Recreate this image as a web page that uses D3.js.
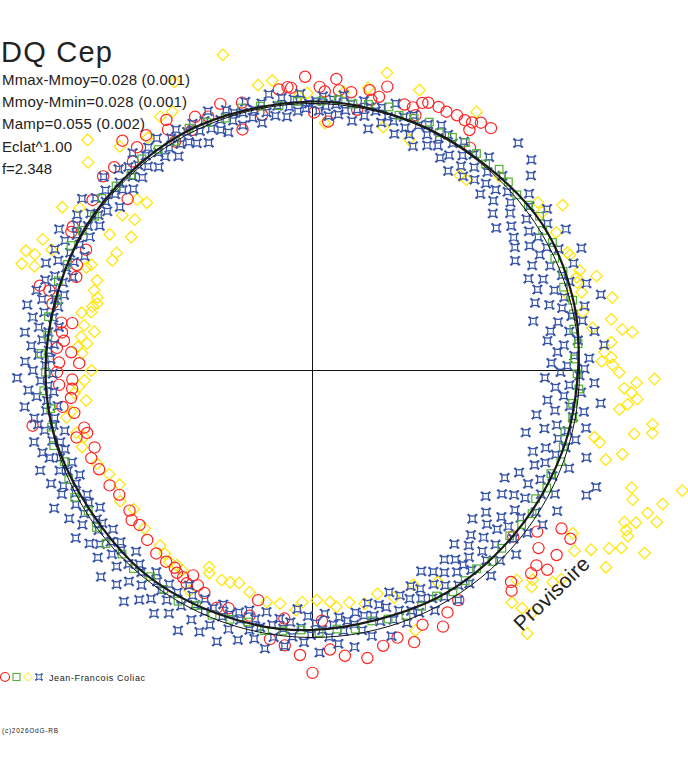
<!DOCTYPE html>
<html><head><meta charset="utf-8">
<script src="https://cdn.jsdelivr.net/npm/d3@7"></script>
<style>body{margin:0;background:#fff}svg{display:block}</style>
</head><body>
<svg id="c" width="688" height="768"></svg>
<script>
// ---------- texts ----------
const title = "DQ Cep";
const infoLines = ["Mmax-Mmoy=0.028 (0.001)", "Mmoy-Mmin=0.028 (0.001)", "Mamp=0.055 (0.002)", "Eclat^1.00", "f=2.348"];
const observer = "Jean-Francois Coliac";
const copyright = "(c)2026OdG-RB";
const watermark = "Provisoire";

// ---------- fitted light curve: phase, magnitude deviation from mean ----------
const fitPhase = [0, .06, .11, .16, .21, .25, .30, .36, .42, .50, .56, .62, .70, .76, .84, .92];
const fitMag   = [-.008, -.004, -.006, -.022, -.012, .006, .018, .029, .032, .031, .024, .015, .006, .001, -.006, -.013];

// ---------- observations: [phase, magnitude deviation] ----------
const redObs = [
[.996,-.104],[.013,-.099],[.004,-.066],[.007,-.049],[.015,-.057],[.022,-.055],[.986,-.069],[.988,-.065],[.981,-.063],[.032,-.075],[.038,-.058],[.041,-.103],[.959,-.04],[.955,.067],[.969,.027],[.001,.037],[.010,.074],[.027,.01],[.034,-.04],
[.053,-.057],[.058,-.058],[.062,-.087],[.065,-.096],[.071,-.098],[.076,-.095],[.082,-.102],[.087,-.101],[.091,-.108],[.095,-.125],[.101,-.13],[.092,-.079],[.098,-.023],[.061,-.033],
[.916,-.09],[.914,-.055],[.894,-.067],[.89,-.12],[.914,0],[.902,-.083],[.869,-.073],[.877,-.067],[.887,-.034],[.926,-.008],[.947,-.06],[.938,-.03],[.931,-.05],
[.798,-.073],[.836,-.05],[.833,-.044],[.828,.043],[.817,.037],[.81,.054],[.855,-.045],[.869,.062],[.79,-.006],[.797,-.032],
[.78,.047],[.781,.094],[.774,.057],[.769,.07],[.764,.043],[.762,.107],[.755,.056],[.749,.048],[.755,.146],[.741,.055],[.744,.114],[.738,.111],[.732,.102],[.727,.06],[.722,.107],[.719,-.072],[.711,.137],[.706,.092],[.707,.144],[.696,.157],
[.668,.147],[.659,.163],[.646,.16],[.634,.153],[.623,.131],[.681,.138],[.69,.125],[.64,.14],
[.6125,.113],[.604,.112],[.597,.113],[.594,.10],[.589,.098],[.584,.129],[.578,.10],[.585,.084],[.572,.083],[.561,.047],[.554,.062],[.54,.058],[.537,.134],[.518,.073],[.494,.07],
[.5,-.135],[.482,-.079],[.46,-.068],[.451,-.053],[.507,-.07],[.516,-.037],[.47,-.10],[.49,-.05],[.525,-.02],[.443,-.09],[.435,-.04],[.419,-.04],[.425,-.08],[.41,-.02],
[.360,.027],[.349,-.038],[.356,-.08],[.362,-.155],[.364,-.115],[.369,-.12],[.380,-.09],[.383,-.115],[.342,-.155],[.340,-.108],[.353,-.148]
];

const yellowObs = [
[.956,-.224],[.97,-.092],[.978,-.10],[.031,-.083],[.018,-.053],[.008,.081],[.992,-.031],[.997,-.042],[.039,-.151],[.045,.056],
[.929,-.196],[.877,-.204],[.902,-.071],[.914,-.112],[.921,-.106],[.887,-.11],[.869,-.148],
[.813,-.164],[.813,-.13],[.806,-.161],[.807,-.115],[.819,-.08],[.822,-.126],[.842,-.122],[.847,-.067],[.844,.097],[.859,.091],[.862,.147],[.851,.185],[.83,.169],[.836,.169],[.821,.093],[.818,.078],[.813,.146],[.806,.15],[.802,.176],[.795,.166],[.873,.093],[.876,.135],
[.798,.184],[.791,.167],[.789,.125],[.781,.149],[.778,.203],[.773,.144],[.769,.176],[.766,.134],[.762,.157],[.75,.205],[.743,.17],[.739,.143],[.729,.17],[.735,.12],[.723,.095],[.72,.07],[.709,.097],[.705,.125],[.699,.103],
[.685,.14],[.675,.17],[.665,.19],[.655,.15],[.645,.18],[.63,.16],
[.614,.152],[.608,.137],[.602,.12],[.597,.128],[.592,.123],[.577,.20],[.575,.175],[.565,.169],[.559,.175],[.553,.187],[.544,.16],[.531,.134],[.522,.137],[.511,.115],[.507,.153],[.497,.163],[.488,.152],[.484,.127],[.581,.062],
[.475,.14],[.465,.12],[.455,.15],[.445,.11],[.43,.13],[.415,.09],[.44,-.05],
[.339,-.151],[.346,-.19],[.341,-.234],[.336,-.281],[.333,-.313],[.344,-.304],[.33,-.38],[.322,-.284],[.32,-.317],[.316,-.372],[.325,-.30],[.327,-.313],[.314,-.337],[.308,-.368],[.311,-.279],[.306,-.262],[.30,-.408],[.361,-.213],[.365,-.197],[.371,-.14],[.374,-.155],[.377,-.099],[.387,-.148],[.385,-.186],[.391,-.261],[.383,-.22],[.292,-.2],[.297,-.15],
[.199,-.124],[.212,-.157],[.223,-.138],[.229,-.171],[.231,-.204],[.226,-.064],[.235,-.127],[.24,-.10],[.243,-.123],[.245,-.087],[.247,-.127],[.251,-.151],[.254,-.269],[.256,-.211],[.259,-.17],[.261,-.195],[.264,-.217],[.267,-.186],[.27,-.16],[.275,-.276],[.281,-.223],[.279,-.28],[.289,-.112],[.287,-.089],[.193,-.072],[.196,-.052],[.183,-.059],[.199,-.048],[.205,-.053],[.216,-.038],[.205,0],
[.058,-.127],[.148,-.056],[.157,-.126],[.063,.07],[.09,-.149],[.103,.095],[.108,.093],[.122,-.01],[.154,-.047],[.168,-.052],[.181,-.055]
];

const blueObs = [
[.002,-.01],[.004,.03],[.006,-.03],[.008,.01],[.010,.05],[.012,-.02],[.014,.00],[.016,.04],[.018,-.04],[.020,.02],[.023,-.01],[.025,.06],[.027,.01],[.030,-.03],[.032,.03],[.034,-.01],[.036,.08],[.038,.00],
[.041,-.02],[.043,.04],[.046,.01],[.048,-.05],[.050,.02],[.053,.07],[.055,-.01],[.058,.03],[.060,-.03],[.062,.05],[.065,.00],[.067,.09],[.070,-.02],[.072,.02],[.075,.06],[.077,-.04],[.079,.01],
[.081,.04],[.083,-.02],[.086,.08],[.088,.00],[.090,.05],[.093,-.03],[.095,.11],[.097,.02],[.100,.06],[.102,-.01],[.105,.09],[.107,.03],[.110,-.04],[.112,.07],[.115,.01],[.117,-.15],[.119,.05],
[.121,.10],[.123,-.02],[.126,.04],[.128,-.14],[.130,.08],[.132,.01],[.134,-.10],[.136,.12],[.138,.03],[.141,-.05],[.143,.06],[.145,.15],[.147,-.02],[.150,.09],[.152,.02],[.154,-.07],[.157,.11],[.159,.04],
[.161,-.04],[.163,.13],[.165,.02],[.167,.07],[.169,-.09],[.171,.16],[.173,.01],[.175,.05],[.177,-.03],[.179,.10],[.182,-.11],[.184,.03],[.186,.14],[.188,-.06],[.190,.08],[.192,.00],[.195,.12],[.197,-.02],[.199,.05],
[.201,-.08],[.203,.15],[.205,.02],[.207,.09],[.209,-.12],[.211,.04],[.213,-.05],[.215,.18],[.217,.01],[.219,.07],[.221,-.03],[.224,.11],[.226,.03],[.228,-.07],[.230,.13],[.232,.00],[.234,.06],[.236,-.10],[.238,.09],
[.241,.02],[.243,-.04],[.245,.12],[.247,.05],[.249,-.02],[.251,.08],[.253,.00],[.255,.15],[.257,-.06],[.259,.04],[.261,.10],[.263,-.01],[.266,.06],[.268,-.09],[.270,.13],[.272,.03],[.274,-.03],[.276,.09],[.278,.01],
[.281,.17],[.283,-.05],[.285,.07],[.287,.02],[.289,.12],[.291,-.02],[.293,.05],[.295,.20],[.297,.01],[.299,-.08],[.301,.09],[.303,.04],[.306,.14],[.308,-.03],[.310,.07],[.312,-.15],[.314,.11],[.316,.02],[.318,-.13],
[.321,.06],[.323,.16],[.325,-.02],[.327,.10],[.329,.03],[.331,.21],[.333,-.06],[.336,.08],[.338,.13],[.340,.01],[.342,.18],[.344,-.04],[.346,.09],[.348,.05],[.350,.24],[.353,-.01],[.355,.12],[.357,.07],[.359,.19],
[.361,.02],[.363,.10],[.365,.15],[.367,-.03],[.369,.22],[.371,.06],[.373,.12],[.376,.00],[.378,.17],[.380,.08],[.382,.04],[.384,.14],[.386,-.02],[.389,.10],[.391,.19],[.393,.05],[.395,.09],[.397,.13],[.399,.01],
[.401,.08],[.403,.16],[.405,.03],[.408,.11],[.410,-.02],[.412,.06],[.414,.14],[.416,.02],[.418,.09],[.421,.17],[.423,.04],[.425,-.01],[.427,.10],[.429,.06],[.432,.13],[.434,.01],[.436,.08],[.438,.03],
[.441,.11],[.443,-.01],[.445,.05],[.447,.14],[.450,.02],[.452,.08],[.454,-.04],[.456,.10],[.458,.03],[.461,.06],[.463,.12],[.465,-.02],[.467,.07],[.470,.01],[.472,.09],[.474,.04],[.476,-.05],[.478,.06],
[.481,.02],[.483,.08],[.485,-.03],[.487,.05],[.490,.00],[.492,.10],[.494,.03],[.496,-.06],[.498,.06],[.501,.01],[.503,.09],[.505,-.02],[.507,.04],[.510,.12],[.512,.00],[.514,.06],[.516,-.04],[.518,.03],
[.521,.07],[.523,-.01],[.525,.04],[.527,-.06],[.530,.09],[.532,.02],[.534,-.03],[.536,.05],[.538,.00],[.541,.08],[.543,-.05],[.545,.03],[.547,.06],[.550,-.02],[.552,.04],[.554,-.08],[.556,.02],[.558,.07],
[.561,-.03],[.563,.04],[.565,-.07],[.567,.01],[.570,.06],[.572,-.04],[.574,.02],[.576,-.10],[.578,.05],[.581,-.01],[.583,.08],[.585,-.06],[.587,.03],[.590,-.02],[.592,-.09],[.594,.04],[.596,.00],[.598,-.05],
[.601,.02],[.603,-.08],[.605,.05],[.607,-.03],[.609,-.12],[.612,.01],[.614,-.05],[.616,.03],[.618,-.09],[.621,.00],[.623,.06],[.625,-.04],[.627,-.11],[.630,.02],[.632,-.02],[.634,.04],[.636,-.07],[.638,.01],
[.641,-.03],[.643,.05],[.645,-.06],[.648,.00],[.650,.03],[.652,-.09],[.654,.02],[.656,-.04],[.659,.06],[.661,-.01],[.663,-.07],[.665,.03],[.668,-.02],[.670,.04],[.672,-.10],[.674,.00],[.677,-.05],[.679,.02],
[.681,-.03],[.683,.05],[.685,-.07],[.688,.01],[.690,-.02],[.692,.04],[.694,-.09],[.697,.00],[.699,-.04],[.701,.03],[.703,-.06],[.706,.02],[.708,-.01],[.710,-.08],[.712,.05],[.715,-.03],[.717,.01],[.719,-.05],
[.721,.02],[.723,-.06],[.726,-.01],[.728,.04],[.730,-.09],[.732,.00],[.735,-.04],[.737,.03],[.739,-.07],[.741,.01],[.744,-.02],[.746,-.11],[.748,.03],[.750,-.05],[.753,.00],[.755,-.08],[.757,.02],[.759,-.03],
[.762,.01],[.764,-.06],[.766,.03],[.768,-.02],[.771,-.09],[.773,.00],[.775,-.04],[.777,.04],[.780,-.07],[.782,.01],[.784,-.03],[.786,-.10],[.789,.02],[.791,-.05],[.793,.00],[.795,-.08],[.797,.03],[.799,-.02],
[.802,-.06],[.804,.01],[.806,-.03],[.809,.04],[.811,-.08],[.813,.00],[.815,-.04],[.818,.02],[.820,-.07],[.822,-.01],[.824,.05],[.827,-.05],[.829,.01],[.831,-.09],[.833,-.02],[.836,.03],[.838,-.04],
[.841,.00],[.843,-.06],[.845,.04],[.848,-.02],[.850,.01],[.852,-.08],[.855,.03],[.857,-.04],[.859,.00],[.862,.06],[.864,-.03],[.866,.01],[.869,-.07],[.871,.02],[.873,-.01],[.876,.05],[.878,-.05],
[.881,.01],[.883,-.03],[.885,.04],[.888,-.01],[.890,-.06],[.892,.02],[.895,-.02],[.897,.05],[.899,-.04],[.902,.00],[.904,.03],[.906,-.05],[.909,.01],[.911,.06],[.913,-.02],[.916,.02],[.918,-.04],
[.921,.03],[.923,-.01],[.925,.05],[.928,-.03],[.930,.01],[.932,.07],[.935,-.02],[.937,.02],[.939,-.05],[.942,.04],[.944,.00],[.946,.06],[.949,-.03],[.951,.02],[.953,-.01],[.956,.05],[.958,.00],
[.961,-.04],[.963,.03],[.965,.00],[.968,.06],[.970,-.02],[.972,.02],[.975,-.05],[.977,.04],[.979,.00],[.982,-.03],[.984,.05],[.986,.01],[.989,-.02],[.991,.03],[.993,-.04],[.996,.02],[.998,.00]
];

const greenObs = [
[.005,-.01],[.015,-.02],[.024,-.01],[.033,-.02],[.045,-.03],[.052,-.01],[.061,-.02],[.070,-.03],[.078,-.01],[.086,-.02],[.094,-.03],[.103,-.02],[.111,-.01],[.119,-.03],[.128,-.02],[.137,-.01],[.146,-.02],[.155,-.03],[.163,-.01],[.172,-.02],[.181,.00],[.190,-.01],[.199,.01],[.208,-.01],[.216,.00],[.225,.01],[.234,.00],[.243,.02],[.252,.01],[.261,.00],[.270,.02],[.279,.01],[.288,.03],[.297,.02],[.306,.01],[.315,.03],[.324,.02],[.333,.04],[.342,.02],[.351,.03],[.361,.04],[.370,.03],[.380,.02],[.390,.04],[.400,.03],[.410,.02],[.420,.04],[.431,.03],[.442,.02],[.453,.03],[.463,.04],[.474,.02],[.485,.03],[.496,.02],[.507,.03],[.518,.02],[.529,.01],[.540,.03],[.551,.02],[.562,.01],[.573,.02],[.584,.00],[.595,.01],[.606,.02],[.617,.00],[.628,.01],[.639,-.01],[.650,.00],[.661,.01],[.672,-.01],[.683,.00],[.694,.01],[.705,-.01],[.716,.00],[.727,.01],[.738,-.01],[.749,.00],[.760,-.02],[.771,.00],[.782,-.01],[.793,.01],[.804,-.01],[.815,.00],[.826,-.02],[.837,-.01],[.848,.00],[.859,-.02],[.870,-.01],[.881,.00],[.892,-.02],[.903,-.01],[.914,.00],[.925,-.02],[.936,-.01],[.947,.00],[.958,-.02],[.969,-.01],[.980,.00],[.991,-.01]
];

// ---------- drawing ----------
const W = 688, H = 768;
const cx = 312.5, cy = 370.5, R0 = 267;
const svg = d3.select("#c");
svg.append("rect").attr("width", W).attr("height", H).attr("fill", "#fff");

const angle = d3.scaleLinear().domain([0, 1]).range([0, 2 * Math.PI]);
const radius = d3.scaleLinear().domain([0, 1]).range([0, R0]);   // relative flux -> px
const flux = dm => Math.pow(10, -0.4 * dm);
const pt = d => d3.pointRadial(angle(d[0]), radius(flux(d[1])));

const plot = svg.append("g").attr("transform", `translate(${cx},${cy})`);

// axes
const ax = radius(1);
plot.append("line").attr("x1", -ax).attr("x2", ax).attr("y1", 0).attr("y2", 0).attr("stroke", "#111").attr("stroke-width", 1);
plot.append("line").attr("x1", 0).attr("x2", 0).attr("y1", -ax).attr("y2", ax).attr("stroke", "#111").attr("stroke-width", 1);

const COL = {red: "#ff2424", yellow: "#ffe600", blue: "#3552a8", green: "#52b232"};
const diamondPath = "M0,-5.8L5.8,0L0,5.8L-5.8,0Z";
const starPath = "M-3.8,-3.8Q0,-1.4 3.8,-3.8Q1.4,0 3.8,3.8Q0,1.4 -3.8,3.8Q-1.4,0 -3.8,-3.8Z" +
  "M-5.2,-3.8H-2.6M2.6,-3.8H5.2M-5.2,3.8H-2.6M2.6,3.8H5.2M-3.8,-5H-3.8V-2.6M3.8,-5V-2.6M-3.8,5V2.6M3.8,5V2.6";

plot.append("g").selectAll("path").data(yellowObs).join("path")
  .attr("d", diamondPath).attr("transform", d => `translate(${pt(d)})`)
  .attr("fill", "none").attr("stroke", COL.yellow).attr("stroke-width", 1.2);

plot.append("g").selectAll("circle").data(redObs).join("circle")
  .attr("cx", d => pt(d)[0]).attr("cy", d => pt(d)[1]).attr("r", 5.6)
  .attr("fill", "none").attr("stroke", COL.red).attr("stroke-width", 1.2);

plot.append("g").selectAll("path").data(blueObs).join("path")
  .attr("d", starPath).attr("transform", d => `translate(${pt(d)})`)
  .attr("fill", "none").attr("stroke", COL.blue).attr("stroke-width", 1.2);

plot.append("g").selectAll("rect").data(greenObs).join("rect")
  .attr("x", d => pt(d)[0] - 3.8).attr("y", d => pt(d)[1] - 3.8).attr("width", 7.6).attr("height", 7.6)
  .attr("fill", "none").attr("stroke", COL.green).attr("stroke-width", 1.2);

// mean circle
plot.append("circle").attr("r", radius(1)).attr("fill", "none").attr("stroke", "#111").attr("stroke-width", 1);

// fitted curve
const fit = fitPhase.map((p, i) => [p, fitMag[i]]);
const fitLine = d3.lineRadial().angle(d => angle(d[0])).radius(d => radius(flux(d[1]))).curve(d3.curveCatmullRomClosed.alpha(0.5));
plot.append("path").attr("d", fitLine(fit)).attr("fill", "none").attr("stroke", "#1a1a1a").attr("stroke-width", 2.2);

// texts
const font = "'Liberation Sans', Arial, sans-serif";
svg.append("text").attr("x", 1).attr("y", 62).attr("font-family", font).attr("font-size", 29)
  .attr("textLength", 111).attr("lengthAdjust", "spacing").attr("fill", "#222").text(title);
const infoY = [85, 107, 129, 152, 174];
const infoW = [188, 185, 143, 70, 50];
infoLines.forEach((t, i) => {
  svg.append("text").attr("x", 2).attr("y", infoY[i]).attr("font-family", font).attr("font-size", 15)
    .attr("textLength", infoW[i]).attr("lengthAdjust", "spacing").attr("fill", "#222").text(t);
});

// legend
const lg = svg.append("g").attr("transform", "translate(0,677)");
lg.append("circle").attr("cx", 5).attr("cy", 0).attr("r", 4.5).attr("fill", "none").attr("stroke", COL.red).attr("stroke-width", 1.1);
lg.append("rect").attr("x", 13).attr("y", -3.5).attr("width", 7).attr("height", 7).attr("fill", "none").attr("stroke", COL.green).attr("stroke-width", 1.1);
lg.append("path").attr("d", diamondPath).attr("transform", "translate(28,0) scale(0.75)").attr("fill", "none").attr("stroke", COL.yellow).attr("stroke-width", 1.3);
lg.append("path").attr("d", starPath).attr("transform", "translate(39,0) scale(0.75)").attr("fill", "none").attr("stroke", COL.blue).attr("stroke-width", 1.3);
lg.append("text").attr("x", 49).attr("y", 4).attr("font-family", font).attr("font-size", 9)
  .attr("textLength", 96).attr("lengthAdjust", "spacing").attr("fill", "#222").text(observer);

svg.append("text").attr("x", 2).attr("y", 733).attr("font-family", font).attr("font-size", 6.5)
  .attr("textLength", 56).attr("lengthAdjust", "spacing").attr("fill", "#222").text(copyright);

svg.append("text").attr("transform", "translate(522,632) rotate(-44)").attr("font-family", font).attr("font-size", 21)
  .attr("textLength", 96).attr("lengthAdjust", "spacing").attr("fill", "#222").text(watermark);
</script>
</body></html>
